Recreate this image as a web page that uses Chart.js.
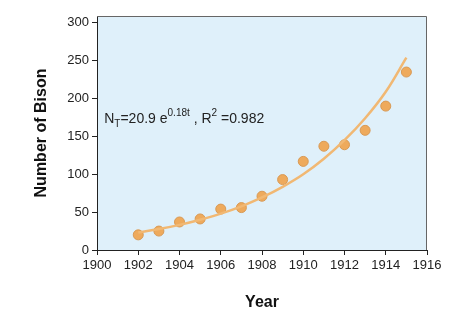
<!DOCTYPE html>
<html>
<head>
<meta charset="utf-8">
<script src="https://cdn.jsdelivr.net/npm/chart.js@4"></script>
<style>
  html, body { margin: 0; padding: 0; background: #fff; }
  #wrap { width: 474px; height: 332px; }
</style>
</head>
<body>
<div id="wrap"><canvas id="chart" width="474" height="332"></canvas></div>
<script>
// observed bison counts
const years = [1902, 1903, 1904, 1905, 1906, 1907, 1908, 1909, 1910, 1911, 1912, 1913, 1914, 1915];
const bison = [20, 25, 37, 41, 54, 56, 71, 93, 117, 137, 139, 158, 190, 235];

// fitted curve
const fitYears = [1902, 1903, 1904, 1905, 1906, 1907, 1908, 1909, 1910, 1911, 1912, 1913, 1914, 1915];
const fitBison = [23, 27.6, 33.2, 40, 48, 57.7, 69.4, 83.4, 100, 120.5, 145, 174, 209, 254];

const xTicks = [1900, 1902, 1904, 1906, 1908, 1910, 1912, 1914, 1916];
const yTicks = [0, 50, 100, 150, 200, 250, 300];

const FONT = '"Liberation Sans", Arial, Helvetica, sans-serif';

const boxPlugin = {
  id: 'box',
  beforeDraw(chart) {
    const { ctx, chartArea: a } = chart;
    ctx.save();
    ctx.fillStyle = '#dff0fa';
    ctx.fillRect(a.left, a.top, a.right - a.left, a.bottom - a.top);
    ctx.restore();
  },
  afterDraw(chart) {
    const { ctx, chartArea: a, scales } = chart;
    ctx.save();
    ctx.strokeStyle = '#666';
    ctx.lineWidth = 1;
    ctx.beginPath();
    ctx.moveTo(a.left, a.top + 0.5);
    ctx.lineTo(a.right - 0.5, a.top + 0.5);
    ctx.lineTo(a.right - 0.5, a.bottom);
    ctx.stroke();

    // equation label
    let x = scales.x.getPixelForValue(1900.35);
    const y = scales.y.getPixelForValue(168);
    ctx.fillStyle = '#222';
    ctx.textBaseline = 'alphabetic';
    const parts = [
      ['N', 14, 0], ['T', 10, 4], ['=20.9 e', 14, 0], ['0.18t', 10, -7],
      [' , R', 14, 0], ['2', 10, -7], [' =0.982', 14, 0]
    ];
    parts.forEach(([t, s, dy]) => {
      ctx.font = s + 'px ' + FONT;
      ctx.fillText(t, x, y + dy);
      x += ctx.measureText(t).width;
    });
    ctx.restore();
  }
};

new Chart(document.getElementById('chart'), {
  type: 'scatter',
  data: {
    datasets: [
      {
        type: 'line',
        data: fitYears.map((yr, i) => ({ x: yr, y: fitBison[i] })),
        borderColor: '#f1b873',
        borderWidth: 2.5,
        pointRadius: 0,
        tension: 0.4,
        fill: false
      },
      {
        data: years.map((yr, i) => ({ x: yr, y: bison[i] })),
        backgroundColor: '#eeaa5c',
        borderColor: '#d99a55',
        borderWidth: 1,
        pointRadius: 5
      }
    ]
  },
  options: {
    responsive: false,
    animation: false,
    layout: { padding: { top: 16, right: 47, left: 32, bottom: 20 } },
    plugins: { legend: { display: false }, tooltip: { enabled: false } },
    scales: {
      x: {
        type: 'linear',
        min: 1900,
        max: 1916,
        afterBuildTicks: (axis) => { axis.ticks = xTicks.map(v => ({ value: v })); },
        afterFit: (axis) => { axis.height = 62; },
        grid: { drawOnChartArea: false, drawTicks: true, tickLength: 5, color: '#222' },
        border: { color: '#222', width: 1 },
        ticks: { color: '#222', font: { family: FONT, size: 13 }, padding: 3, maxRotation: 0, callback: (v) => String(v) },
        title: { display: true, text: 'Year', color: '#111', font: { family: FONT, size: 16, weight: 'bold' }, padding: { top: 4, bottom: 0 } }
      },
      y: {
        min: 0,
        max: 309,
        afterBuildTicks: (axis) => { axis.ticks = yTicks.map(v => ({ value: v })); },
        afterFit: (axis) => { axis.width = 65; },
        grid: { drawOnChartArea: false, drawTicks: true, tickLength: 5, color: '#222' },
        border: { color: '#222', width: 1 },
        ticks: { color: '#222', font: { family: FONT, size: 13 }, padding: 3 },
        title: { display: true, text: 'Number of Bison', color: '#111', font: { family: FONT, size: 16, weight: 'bold' }, padding: { top: 0, bottom: 4 } }
      }
    }
  },
  plugins: [boxPlugin]
});
</script>
</body>
</html>
